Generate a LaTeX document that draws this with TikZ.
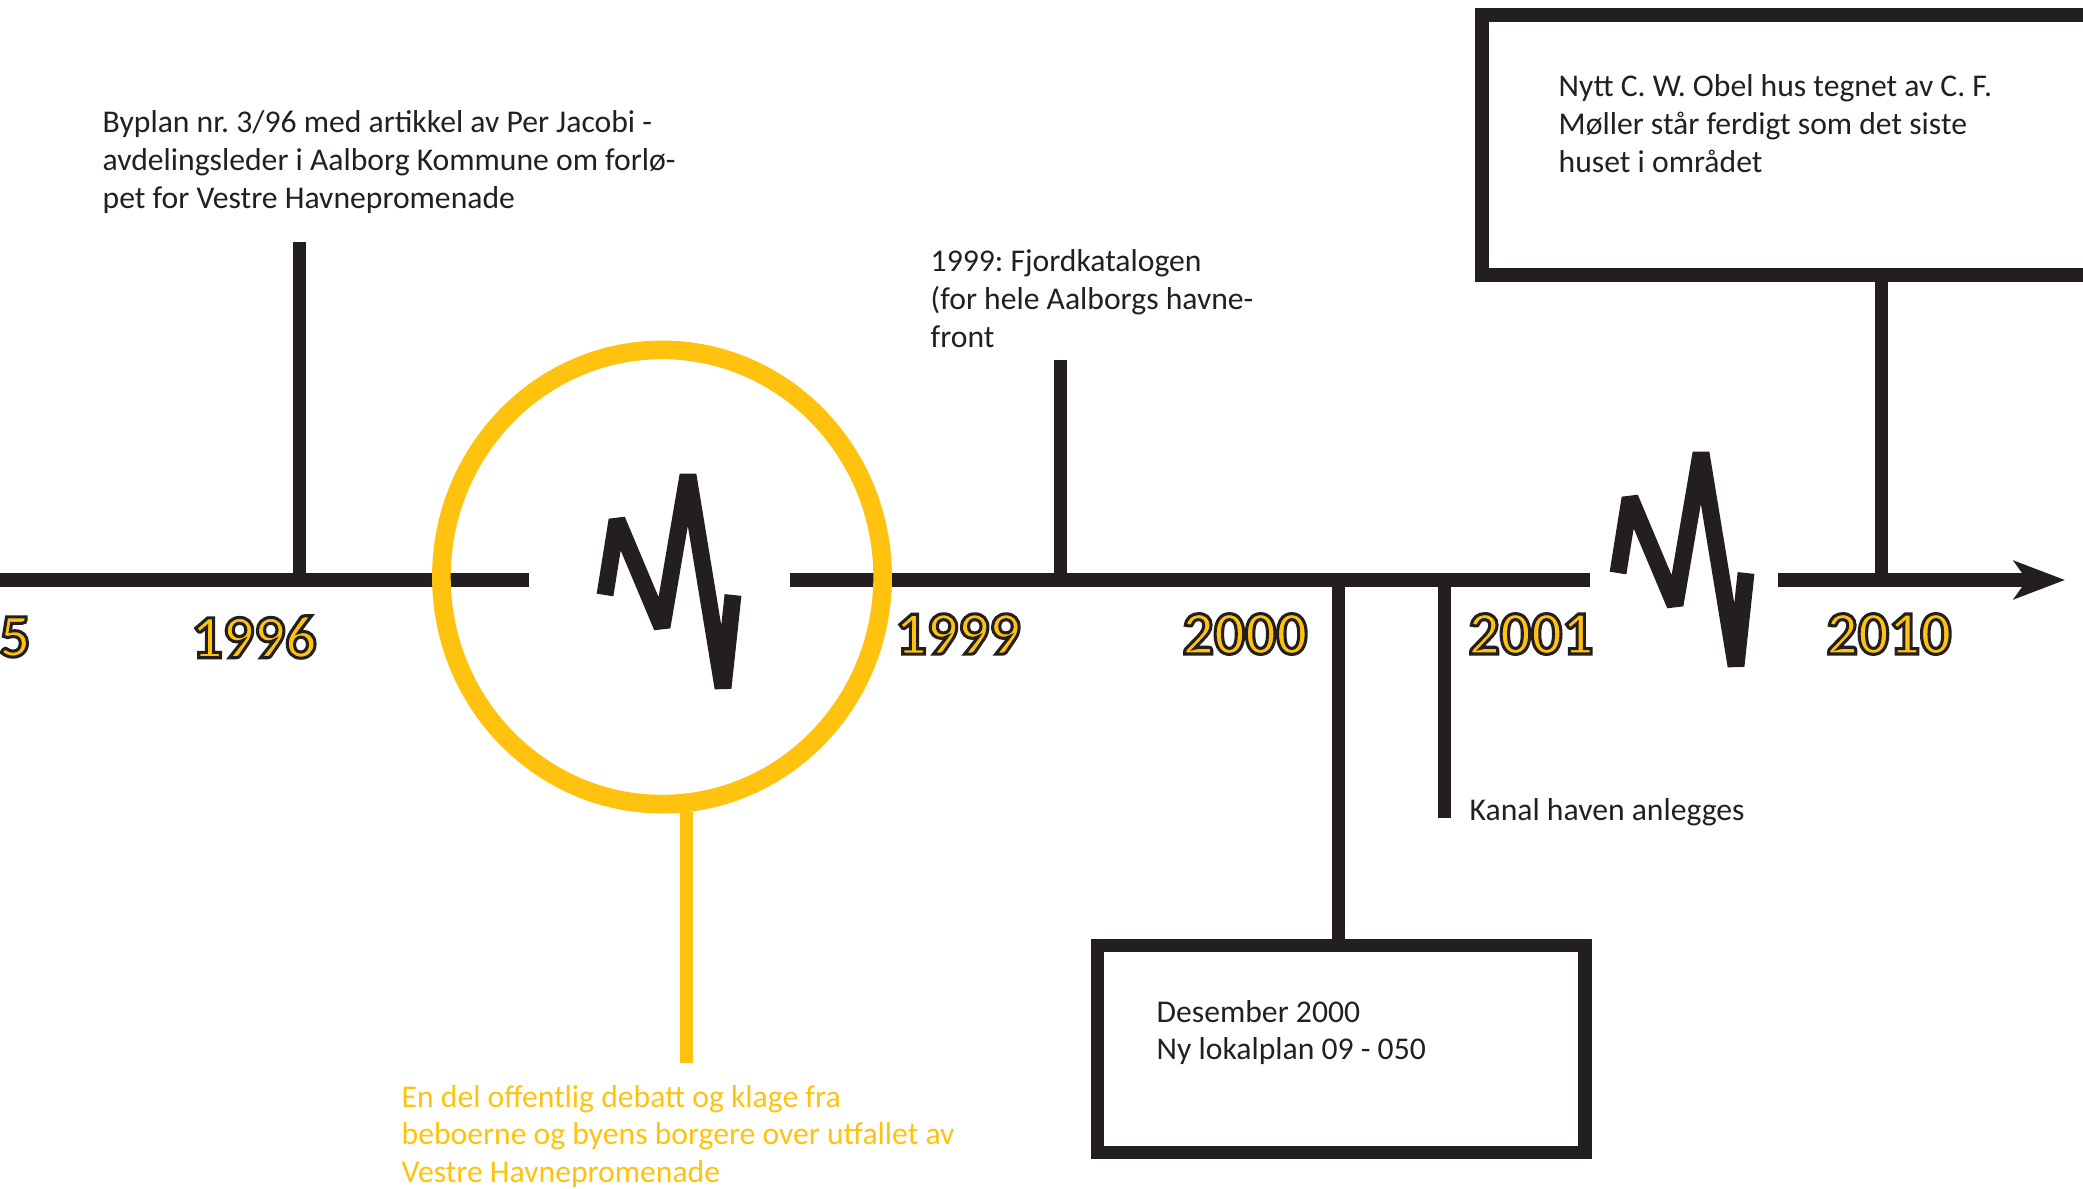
\documentclass[tikz,border=0pt]{standalone}
\usepackage{fontspec}
\setmainfont{Carlito}
\newfontfamily\yearfont[FakeBold=5]{Carlito Bold}
\usepackage{xcolor}
\usetikzlibrary{arrows.meta, positioning, shapes.geometric}
\definecolor{inkdark}{HTML}{231F20}
\definecolor{sunyellow}{HTML}{FFC20E}
\frenchspacing
% yellow digits with a dark outline stroke
\newcommand{\yeartext}[1]{\yearfont\special{pdf:literal direct 0.137 0.122 0.125 RG}#1}

\begin{document}
\begin{tikzpicture}[
  x=0.01cm, y=-0.01cm,
  axis_line/.style={line width=3.7pt, draw=inkdark},
  tick_line/.style={line width=3.7pt, draw=inkdark},
  break_mark/.style={line width=4.8pt, draw=inkdark, line join=bevel},
  note/.style={font=\fontsize{9}{10.8}\selectfont, text=inkdark, anchor=base west, inner sep=0pt,
               text width=7cm, execute at begin node={\spaceskip 0pt\xspaceskip 0pt\relax}},
  year_label/.style={font=\fontsize{17.5}{20}\selectfont, text=sunyellow, inner sep=0pt},
  frame_box/.style={draw=inkdark, line width=3.9pt, inner sep=0pt},
]
  \useasboundingbox (0,0) rectangle (2083,1189);

  % the time axis, cut twice
  \coordinate (axis_start) at (-20,580);
  \coordinate (gap_in) at (529,580);
  \coordinate (gap_out) at (790,580);
  \coordinate (cut_in) at (1590,580);
  \coordinate (cut_out) at (1778,580);
  \coordinate (axis_end) at (2065,580);
  \draw[axis_line] (axis_start) -- (gap_in);
  \draw[axis_line] (gap_out) -- (cut_in);
  \draw[axis_line, -{Stealth[length=5.1mm, width=3.8mm, inset=1.3mm]}] (cut_out) -- (axis_end);

  % break marks
  \foreach \dx/\dy in {0/0, 1013/-22}
    \draw[break_mark, shift={(\dx,\dy)}]
      (605,595) -- (617,520) -- (662,627) -- (688,475) -- (723,688) -- (733,595);

  % years
  \node[year_label] (y1995) at (15,637) {\yeartext{5}};
  \node[year_label] (y1996) at (254,637) {\yeartext{1996}};
  \node[year_label] (y1999) at (958,634) {\yeartext{1999}};
  \node[year_label] (y2000) at (1245,634) {\yeartext{2000}};
  \node[year_label] (y2001) at (1531,634) {\yeartext{2001}};
  \node[year_label] (y2010) at (1889,634) {\yeartext{2010}};

  % events above the axis
  \node[note] (byplan) at (102,133)
    {Byplan nr. 3/96 med artikkel av Per Jacobi -\\avdelingsleder i Aalborg Kommune om forlø-\\pet for Vestre Havnepromenade};
  \coordinate (tick_1996) at (299,580);
  \coordinate (tick_1996_top) at (299,242);
  \draw[tick_line] (tick_1996) -- (tick_1996_top);

  \node[note] (fjord) at (930,272)
    {1999: Fjordkatalogen\\(for hele Aalborgs havne-\\front};
  \coordinate (tick_1999) at (1060,580);
  \coordinate (tick_1999_top) at (1060,360);
  \draw[tick_line] (tick_1999) -- (tick_1999_top);

  \node[frame_box, line width=4pt, minimum width=6.07cm, minimum height=2.6cm] (obel_box) at (1786,145) {};
  \node[note] (obel) at (1558,97)
    {Nytt C. W. Obel hus tegnet av C. F.\\Møller står ferdigt som det siste\\huset i området};
  \coordinate (tick_2010) at (1881,580);
  \draw[tick_line] (tick_2010) -- (tick_2010 |- obel_box.south);

  % events below the axis
  \node[frame_box, minimum width=4.87cm, minimum height=2.07cm] (plan_box) at (1341,1049) {};
  \node[note] (lokalplan) at (1156,1022)
    {Desember 2000\\Ny lokalplan 09 - 050};
  \coordinate (tick_2000) at (1338,580);
  \draw[tick_line] (tick_2000) -- (tick_2000 |- plan_box.north);

  \node[note] (kanal) at (1469,820) {Kanal haven anlegges};
  \coordinate (tick_2001) at (1444,580);
  \coordinate (tick_2001_end) at (1444,818);
  \draw[tick_line] (tick_2001) -- (tick_2001_end);

  % the disputed years, ringed in yellow
  \node[ellipse, draw=sunyellow, line width=5.3pt, minimum width=4.41cm, minimum height=4.54cm,
        inner sep=0pt] (gap) at (662,577) {};
  \coordinate (debate_end) at (686,1063);
  \draw[line width=3.7pt, sunyellow] (gap.-84) -- (gap.-84 |- debate_end);
  \node[note, text=sunyellow] (debate) at (401,1107)
    {En del offentlig debatt og klage fra\\beboerne og byens borgere over utfallet av\\Vestre Havnepromenade};

\end{tikzpicture}
\end{document}
